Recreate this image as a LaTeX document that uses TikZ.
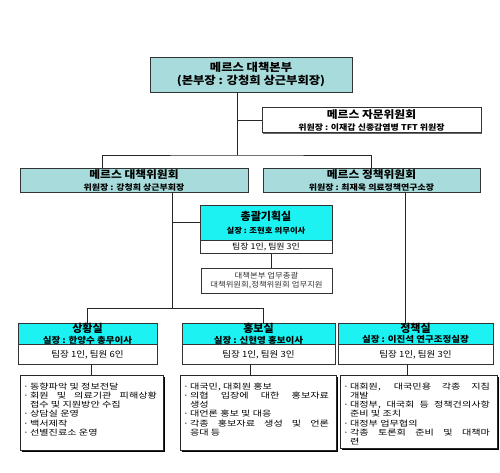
\documentclass[tikz,border=0pt]{standalone}
\usepackage{fontspec}
\setmainfont{Noto Sans CJK KR}
\newfontfamily\widekr[FakeStretch=1.3]{Noto Sans CJK KR}
\newfontfamily\midkr[FakeStretch=1.12]{Noto Sans CJK KR}
\usetikzlibrary{shadows}

\definecolor{boardteal}{HTML}{A8DCDC}
\definecolor{roomcyan}{HTML}{1CF2F2}

\newcommand\krsize[1]{\fontsize{#1}{#1}\selectfont}
\newcommand\dotitem{\par\hangindent=0.9em\hangafter=1\noindent\makebox[0.9em][l]{·}}

\tikzset{
  board/.style={draw=black!80, fill=boardteal, font=\bfseries, align=center,
    inner sep=0pt, drop shadow={shadow xshift=1.2pt, shadow yshift=-1.2pt, fill=black!60, opacity=1}},
  adviceboard/.style={board, fill=white},
  roomhead/.style={draw=black!80, fill=roomcyan, font=\bfseries, align=center, inner sep=0pt},
  staffrow/.style={draw=black!80, fill=white, align=center, inner sep=0pt, font=\midkr\krsize{8}},
  taskbox/.style={draw=black!85, fill=white, inner sep=0pt,
    drop shadow={shadow xshift=1.6pt, shadow yshift=-1.6pt, fill=black, opacity=1}},
  tasktext/.style={anchor=north west, inner sep=0pt, align=justify,
    font=\widekr\fontsize{7.8}{9.2}\selectfont},
  link/.style={draw=black!85, line width=0.7pt}
}

\begin{document}
\begin{tikzpicture}[x=1pt, y=-1pt, line width=0.7pt]
  \useasboundingbox (0,0) rectangle (500,473);

  % headquarters and committees
  \node[board, minimum width=202, minimum height=35] (hq) at (251,74.5)
    {\midkr\krsize{11}메르스 대책본부\\[1pt]\midkr\krsize{11}(본부장 : 강청희 상근부회장)};
  \node[adviceboard, minimum width=219, minimum height=25] (adv) at (371.5,120)
    {\midkr\krsize{10.5}메르스 자문위원회\\[0pt]\midkr\krsize{8}위원장 : 이재갑 신종감염병 TFT 위원장};
  \node[board, minimum width=228, minimum height=24] (ctteA) at (134,180)
    {\midkr\krsize{10.5}메르스 대책위원회\\[0pt]\midkr\krsize{8}위원장 : 강청희 상근부회장};
  \node[board, minimum width=217, minimum height=24] (ctteB) at (371.5,180)
    {\midkr\krsize{10.5}메르스 정책위원회\\[0pt]\midkr\krsize{8}위원장 : 최재욱 의료정책연구소장};

  % planning office
  \node[roomhead, minimum width=132, minimum height=35] (plan) at (266,222.5)
    {\krsize{11}총괄기획실\\[1pt]\midkr\krsize{7.5}실장 : 조현호 의무이사};
  \node[staffrow, minimum width=132, minimum height=13, anchor=north] (planstaff) at (plan.south)
    {팀장 1인, 팀원 3인};
  \node[draw=black!80, fill=white, align=center, inner sep=0pt, text=black!80,
    font=\midkr\fontsize{7.5}{9}\selectfont, minimum width=131, minimum height=25] (planduty) at (266.5,280.5)
    {대책본부 업무총괄\\\midkr 대책위원회,정책위원회 업무지원};

  % offices
  \foreach \name/\cx/\boxw/\title/\chief/\staff in {
      sit/87.5/139/상황실/실장 : 한양수 총무이사/{팀장 1인, 팀원 6인},
      pr/258.5/153/홍보실/실장 : 신현영 홍보이사/{팀장 1인, 팀원 3인},
      pol/415.5/155/정책실/실장 : 이진석 연구조정실장/{팀장 1인, 팀원 3인}} {
    \node[roomhead, minimum width=\boxw, minimum height=21] (\name) at (\cx,333.5)
      {\krsize{11}\title\\[-1.5pt]\midkr\krsize{8.5}\chief};
    \node[staffrow, minimum width=\boxw, minimum height=20, anchor=north] (\name staff) at (\name.south)
      {\krsize{8.5}\staff};
  }

  % task lists
  \node[taskbox, minimum width=143, minimum height=75] (sittask) at (91.5,412.5) {};
  \node[taskbox, minimum width=156, minimum height=75] (prtask) at (258,412.5) {};
  \node[taskbox, minimum width=157, minimum height=73] (poltask) at (418.5,411.5) {};

  \node[tasktext, text width=134] (sitlist) at ([shift={(3,5)}]sittask.north west) {%
    \dotitem 동향파악 및 정보전달
    \dotitem 회원 및 의료기관 피해상황\linebreak 접수 및 지원방안 수집
    \dotitem 상담실 운영
    \dotitem 백서제작
    \dotitem 선별진료소 운영\par};
  \node[tasktext, text width=146] (prlist) at ([shift={(3,5)}]prtask.north west) {%
    \dotitem 대국민, 대회원 홍보
    \dotitem 의협 입장에 대한 홍보자료\linebreak 생성
    \dotitem 대언론 홍보 및 대응
    \dotitem 각종 홍보자료 생성 및 언론\linebreak 응대 등\par};
  \node[tasktext, text width=147] (pollist) at ([shift={(3,5)}]poltask.north west) {%
    \dotitem 대회원, 대국민용 각종 지침\linebreak 개발
    \dotitem 대정부, 대국회 등 정책건의사항\linebreak 준비 및 조치
    \dotitem 대정부 업무협의
    \dotitem 각종 토론회 준비 및 대책마\linebreak 련\par};

  % connector positions
  \coordinate (hqdrop) at (237,0);
  \coordinate (ctteAdrop) at (102,0);
  \coordinate (ctteAtrunk) at (172,0);
  \coordinate (plandrop) at (271,0);
  \coordinate (prdrop) at (263,0);
  \coordinate (poltrunk) at (405,0);
  \coordinate (prlow) at (250,0);
  \coordinate (pollow) at (407,0);
  \coordinate (topbus) at (0,155);
  \coordinate (officebus) at (0,308);

  % connectors
  \draw[link] (hq.south -| hqdrop) -- (hqdrop |- topbus);
  \draw[link] (hqdrop |- adv.west) -- (adv.west);
  \draw[link] (ctteA.north -| ctteAdrop) |- (hqdrop |- topbus) -| (ctteB.north);
  \draw[link] (ctteA.south -| ctteAtrunk) -- (ctteAtrunk |- officebus);
  \draw[link] (ctteAtrunk |- plan.west) -- (plan.west);
  \draw[link] (planstaff.south -| plandrop) -- (planduty.north -| plandrop);
  \draw[link] (sit.north) |- (officebus -| prdrop) -- (pr.north -| prdrop);
  \draw[link] (ctteB.south -| poltrunk) -- (pol.north -| poltrunk);
  \draw[link] (sitstaff.south -| sittask.north) -- (sittask.north);
  \draw[link] (prstaff.south -| prlow) -- (prtask.north -| prlow);
  \draw[link] (polstaff.south -| pollow) -- (poltask.north -| pollow);
\end{tikzpicture}
\end{document}
